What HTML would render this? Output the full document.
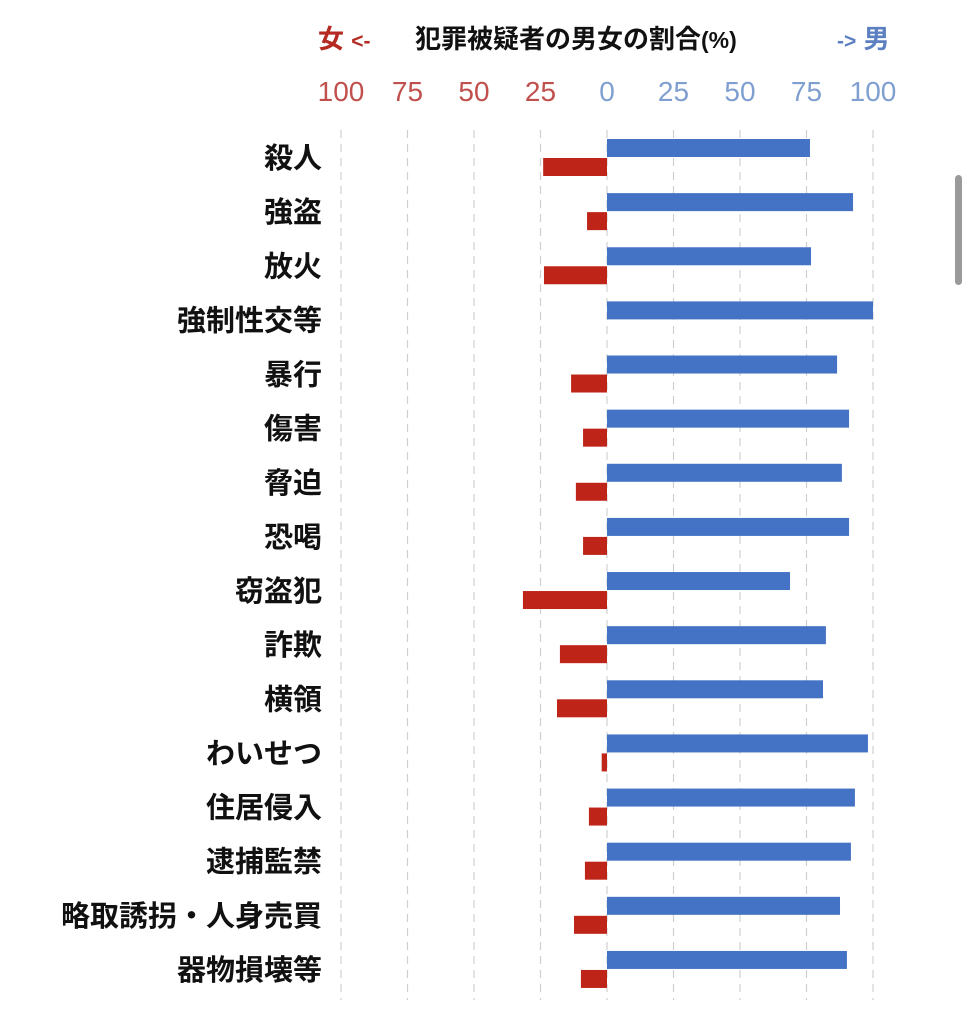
<!DOCTYPE html>
<html><head><meta charset="utf-8"><style>
body{margin:0;background:#fff;width:971px;height:1024px;overflow:hidden;font-family:"Liberation Sans","Noto Sans CJK JP",sans-serif}
svg{display:block}
</style></head><body>
<svg id="chart" width="971" height="1024" viewBox="0 0 971 1024">
<g font-family="Liberation Sans, Noto Sans CJK JP, sans-serif" font-weight="bold" font-size="26">
<text x="318" y="48" fill="#b52a22">女 <tspan font-size="21">&lt;-</tspan></text>
<text x="415" y="48" fill="#111">犯罪被疑者の男女の割合<tspan font-size="23">(%)</tspan></text>
<text x="837" y="48" fill="#5b7fc0"><tspan font-size="21">-&gt;</tspan> 男</text>
</g>
<g id="ticks"></g>
<g id="grid"></g>
<g id="bars"></g>
<g id="labels"></g>
<rect x="955" y="175" width="7" height="110" rx="3.5" fill="#9a9a9a"/>
</svg>
<script>
const categories=["殺人","強盗","放火","強制性交等","暴行","傷害","脅迫","恐喝","窃盗犯","詐欺","横領","わいせつ","住居侵入","逮捕監禁","略取誘拐・人身売買","器物損壊等"];
const maleValues=[76.3,92.5,76.7,100,86.5,91,88.3,91,68.8,82.3,81.2,98.1,93.2,91.7,87.6,90.2];
const femaleValues=[24,7.5,23.7,0,13.5,9,11.7,9,31.6,17.7,18.8,2,6.8,8.3,12.4,9.8];
const femaleTicks=[100,75,50,25];
const maleTicks=[0,25,50,75,100];
const NS="http://www.w3.org/2000/svg";
const x0=607,unit=2.66;
const xm=v=>x0+v*unit, xf=v=>x0-v*unit;
const rowY=i=>148+i*54.13;
function mk(tag,attrs,parent){const e=document.createElementNS(NS,tag);for(const k in attrs)e.setAttribute(k,attrs[k]);parent.appendChild(e);return e;}
const ticks=document.getElementById('ticks'),grid=document.getElementById('grid'),bars=document.getElementById('bars'),labels=document.getElementById('labels');
function tick(x,t,color){
 const e=mk('text',{x:x,y:101,'text-anchor':'middle','font-size':'28',fill:color,'font-family':'Liberation Sans Narrow, Liberation Sans, sans-serif'},ticks);
 
 
 e.textContent=t;
 const l=mk('line',{x1:x,x2:x,y1:130,y2:1000,stroke:'#d0d0d0','stroke-width':'1.2','stroke-dasharray':'8 6'},grid);
 
 
}
femaleTicks.forEach(t=>tick(xf(t),t,'#c0504d'));
maleTicks.forEach(t=>tick(xm(t),t,'#7f9fd0'));
categories.forEach((c,i)=>{
 const y=rowY(i);
 const b=mk('rect',{x:x0,y:y-9,width:Math.max(0,xm(maleValues[i])-x0),height:18,fill:'#4472c4'},bars);
 
 
 const r=mk('rect',{x:xf(femaleValues[i]),y:y+10,width:Math.max(0,x0-xf(femaleValues[i])),height:18,fill:'#bf2419'},bars);
 
 
 const t=mk('text',{x:322,y:y+20,'text-anchor':'end','font-size':'29','font-weight':'bold',fill:'#111'},labels);
 
 
 t.textContent=c;
});
</script>
</body></html>
